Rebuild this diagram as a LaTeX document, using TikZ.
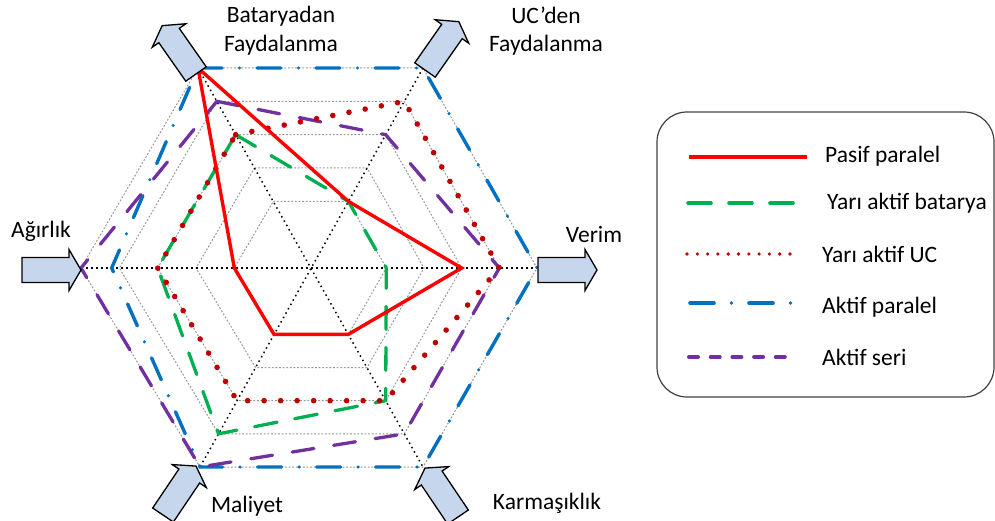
\documentclass[tikz,border=0pt]{standalone}
\usepackage{fontspec}
\setmainfont{Carlito}
\usetikzlibrary{calc}

\definecolor{pasifRed}{RGB}{255,0,0}
\definecolor{yariGreen}{RGB}{0,176,80}
\definecolor{ucRed}{RGB}{192,0,0}
\definecolor{aktifBlue}{RGB}{0,112,192}
\definecolor{seriPurple}{RGB}{112,48,160}
\definecolor{gridGrey}{RGB}{150,150,150}
\definecolor{arrowFill}{RGB}{198,215,237}
\definecolor{frameGrey}{RGB}{64,64,64}

% one closed polygon through the six axes (values on a 0..6 scale)
\newcommand\radarpoly[7]{%
  \draw[#1] ($(C)!#2/6!(V1)$) -- ($(C)!#3/6!(V2)$) -- ($(C)!#4/6!(V3)$)
        -- ($(C)!#5/6!(V4)$) -- ($(C)!#6/6!(V5)$) -- ($(C)!#7/6!(V6)$) -- cycle;}

\begin{document}
\begin{tikzpicture}[x=1pt,y=-1pt,
  every node/.style={inner sep=0pt, font=\fontsize{23.5}{28}\selectfont},
  lbl/.style={anchor=base},
  legtext/.style={anchor=base west},
  gridline/.style={draw=gridGrey, line width=1pt, dash pattern=on 1.8pt off 1.8pt},
  axisline/.style={draw=black, line width=1.5pt, dash pattern=on 1.5pt off 3.5pt},
  serPasif/.style={draw=pasifRed, line width=3.4pt},
  serYari/.style={draw=yariGreen, line width=3.3pt, line cap=round, dash pattern=on 23pt off 18pt},
  serUC/.style={draw=ucRed, line width=5.6pt, line cap=round, dash pattern=on 0pt off 16.5pt},
  serAktif/.style={draw=aktifBlue, line width=3.4pt, line cap=round,
                   dash pattern=on 24pt off 17.5pt on 0pt off 17.5pt},
  serSeri/.style={draw=seriPurple, line width=3.3pt, line cap=round, dash pattern=on 22pt off 20pt},
  arrowbody/.style={draw=black, fill=arrowFill, line width=1.3pt, line join=miter},
  blockarrow/.pic={\path[arrowbody] (0,-12.5) -- (47,-12.5) -- (47,-20.5) -- (59,0)
                     -- (47,20.5) -- (47,12.5) -- (0,12.5) -- cycle;}
]
\useasboundingbox (0,0) rectangle (995,521);

% centre and outer vertices of the hexagon
\coordinate (C)  at (311,268);
\coordinate (V1) at (198,68);   % Bataryadan Faydalanma
\coordinate (V2) at (423,68);   % UC'den Faydalanma
\coordinate (V3) at (537,268);  % Verim
\coordinate (V4) at (423,467);  % Karmasiklik
\coordinate (V5) at (200,467);  % Maliyet
\coordinate (V6) at (81,268);   % Agirlik

% grid rings
\foreach \k in {2,...,6}{
  \draw[gridline] ($(C)!\k/6!(V1)$) -- ($(C)!\k/6!(V2)$) -- ($(C)!\k/6!(V3)$)
      -- ($(C)!\k/6!(V4)$) -- ($(C)!\k/6!(V5)$) -- ($(C)!\k/6!(V6)$) -- cycle;
}
% axes
\draw[axisline] (V1) -- (V4);
\draw[axisline] (V2) -- (V5);
\draw[axisline] (V6) -- (V3);

% series
\radarpoly{serAktif}{6}{6}{6}{6}{6}{5.2}
\radarpoly{serSeri}{5}{4}{5}{5}{6}{6}
\radarpoly{serYari}{4}{2}{2}{4}{5}{4}
\radarpoly{serUC}{4}{5}{5}{4}{4}{4}
\radarpoly{serPasif}{6}{2}{4}{2}{2}{2}

% axis arrows
\pic[rotate=125] at (196,74)  {blockarrow};
\pic[rotate=55]  at (425,70)  {blockarrow};
\pic             at (538,270) {blockarrow};
\pic[rotate=124] at (458,517) {blockarrow};
\pic[rotate=56]  at (163,515) {blockarrow};
\pic             at (22,270)  {blockarrow};

% axis labels
\node[lbl] (labBat1) at (281,23)  {Bataryadan};
\node[lbl] (labBat2) at (281,52)  {Faydalanma};
\node[lbl] (labUC1)  at (546,24)  {UC’den};
\node[lbl] (labUC2)  at (546,52)  {Faydalanma};
\node[lbl] (labVer)  at (594,243) {Verim};
\node[lbl] (labKar)  at (547,509) {Karmaşıklık};
\node[lbl] (labMal)  at (247,512) {Maliyet};
\node[lbl] (labAgi)  at (41,238)  {Ağırlık};

% legend
\draw[draw=frameGrey, line width=1.2pt, rounded corners=30pt] (657,112) rectangle (994,397);
\coordinate (lA1) at (689,157); \coordinate (lA2) at (807,157);
\coordinate (lB1) at (688,203); \coordinate (lB2) at (802,203);
\coordinate (lC1) at (687,254); \coordinate (lC2) at (790,254);
\coordinate (lD1) at (690,303); \coordinate (lD2) at (797,303);
\coordinate (lE1) at (689,357); \coordinate (lE2) at (788,357);
\draw[serPasif, line width=4pt] (lA1) -- (lA2);
\draw[serYari, line width=3.6pt] (lB1) -- (lB2);
\draw[serUC, line width=3.6pt, dash pattern=on 0pt off 10.3pt] (lC1) -- (lC2);
\draw[serAktif, line width=3.6pt] (lD1) -- (lD2);
\draw[serSeri, line width=4pt, dash pattern=on 9pt off 12.7pt] (lE1) -- (lE2);
\node[legtext] (legA) at (825,163) {Pasif paralel};
\node[legtext] (legB) at (827,210) {Yarı aktif batarya};
\node[legtext] (legC) at (822,262) {Yarı aktif UC};
\node[legtext] (legD) at (822,313) {Aktif paralel};
\node[legtext] (legE) at (822,365) {Aktif seri};
\end{tikzpicture}
\end{document}
